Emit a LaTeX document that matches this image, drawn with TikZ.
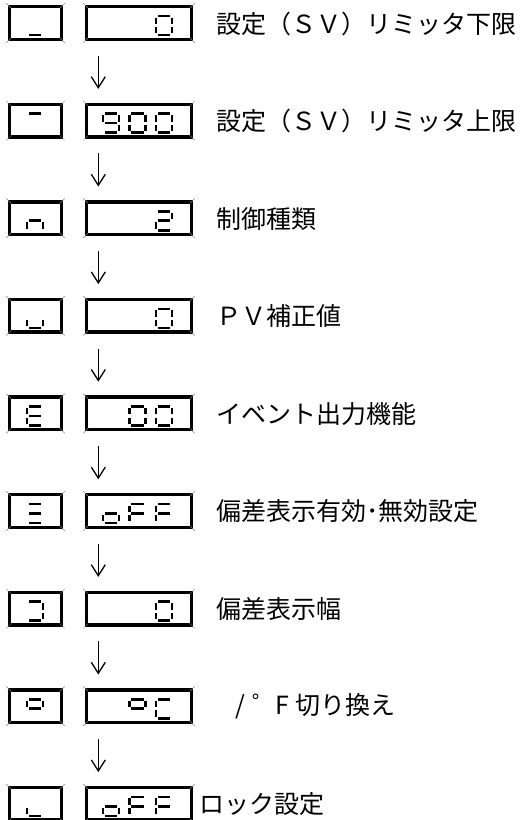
\documentclass[tikz,border=0pt]{standalone}
\usepackage{fontspec}
\newfontfamily\jp{Noto Sans CJK JP}
\usetikzlibrary{calc,arrows.meta}
\newcommand{\sega}{\draw[sg] (1.8,0)--(14.2,0);}
\newcommand{\segg}{\draw[sg] (1.8,9.5)--(14.2,9.5);}
\newcommand{\segd}{\draw[sg] (1.8,19)--(14.2,19);}
\newcommand{\segf}{\draw[sg] (0,1.6)--(0,7.9);}
\newcommand{\sege}{\draw[sg] (0,11.1)--(0,17.4);}
\newcommand{\segb}{\draw[sg] (16,1.6)--(16,7.9);}
\newcommand{\segc}{\draw[sg] (16,11.1)--(16,17.4);}
\newcommand{\sdigit}[3]{\begin{scope}[shift={(#1,#2)}]\foreach \s in {#3}{\csname seg\s\endcsname}\end{scope}}
\newcommand{\bevel}[1]{%
  \draw[bv] ($(#1.north west)+(-1.7,-1.7)$) -- ($(#1.north west)+(3.2,3.2)$);
  \draw[bv] ($(#1.north east)+(1.7,-1.7)$) -- ($(#1.north east)+(-3.2,3.2)$);
  \draw[bv] ($(#1.south west)+(-1.7,1.7)$) -- ($(#1.south west)+(3.2,-3.2)$);
  \draw[bv] ($(#1.south east)+(1.7,1.7)$) -- ($(#1.south east)+(-3.2,-3.2)$);}
\tikzset{
  lbox/.style={draw, line width=3.4pt, minimum width=51.6pt, minimum height=32.6pt, inner sep=0pt},
  rbox/.style={lbox, minimum width=104.6pt},
  sg/.style={line width=2.6pt, line cap=butt},
  bv/.style={line width=0.5pt, gray},
  arr/.style={line width=1.3pt, -{Straight Barb[length=11pt,width=14pt]}},
  lbl/.style={anchor=west, inner sep=0pt, font=\jp\fontsize{25}{25}\selectfont}
}
\begin{document}
\begin{tikzpicture}[x=1pt,y=-1pt]
\useasboundingbox (0,0) rectangle (524,820);
\foreach \i in {1,...,9}{
  \pgfmathsetmacro{\t}{5+97.6*(\i-1)}
  \node[lbox] (l\i) at (35.5,\t+18) {};
  \node[rbox] (r\i) at (139,\t+18) {};
  \bevel{l\i}
  \bevel{r\i}
}
% left indicators
\sdigit{27}{16}{d}
\sdigit{27}{113.6}{a}
\sdigit{27}{211.2}{c,e,g}
\sdigit{27}{308.8}{c,d,e}
\sdigit{27}{406.4}{a,d,e,f,g}
\sdigit{27}{504}{a,d,g}
\sdigit{27}{601.6}{a,b,c,d}
\sdigit{27}{699.2}{a,b,f,g}
\sdigit{27}{796.8}{d,e}
% right values
\sdigit{156}{16}{a,b,c,d,e,f}
\sdigit{103}{113.6}{a,b,c,d,f,g}
\sdigit{129.5}{113.6}{a,b,c,d,e,f}
\sdigit{156}{113.6}{a,b,c,d,e,f}
\sdigit{156}{211.2}{a,b,d,e,g}
\sdigit{156}{308.8}{a,b,c,d,e,f}
\sdigit{129.5}{406.4}{a,b,c,d,e,f}
\sdigit{156}{406.4}{a,b,c,d,e,f}
\sdigit{103}{504}{c,d,e,g}
\sdigit{129.5}{504}{a,e,f,g}
\sdigit{156}{504}{a,e,f,g}
\sdigit{156}{601.6}{a,b,c,d,e,f}
\sdigit{129.5}{699.2}{a,b,f,g}
\sdigit{156}{699.2}{a,d,e,f}
\sdigit{103}{796.8}{c,d,e,g}
\sdigit{129.5}{796.8}{a,e,f,g}
\sdigit{156}{796.8}{a,e,f,g}
% arrows
\foreach \i [evaluate=\i as \j using int(\i+1)] in {1,...,8}{
  \draw[arr] ($(r\i.south west)+(13.3,14.7)$) -- ($(r\j.north west)+(13.3,-13.7)$);
}
% labels
\node[lbl] (t1) at (216,23.5) {設定（ＳＶ）リミッタ下限};
\node[lbl] (t2) at (216,121.1) {設定（ＳＶ）リミッタ上限};
\node[lbl] (t3) at (216,218.7) {制御種類};
\node[lbl] (t4) at (216,316.3) {ＰＶ補正値};
\node[lbl] (t5) at (216,413.9) {イベント出力機能};
\node[lbl] (t6) at (216,511.5) {偏差表示有効･無効設定};
\node[lbl] (t7) at (216,609.1) {偏差表示幅};
\node[lbl] (t8) at (235,706.7) {/\hspace{7pt}゜\hspace{-2pt}F\hspace{7pt}切り換え};
\node[lbl] (t9) at (199,804.3) {ロック設定};
\end{tikzpicture}
\end{document}
